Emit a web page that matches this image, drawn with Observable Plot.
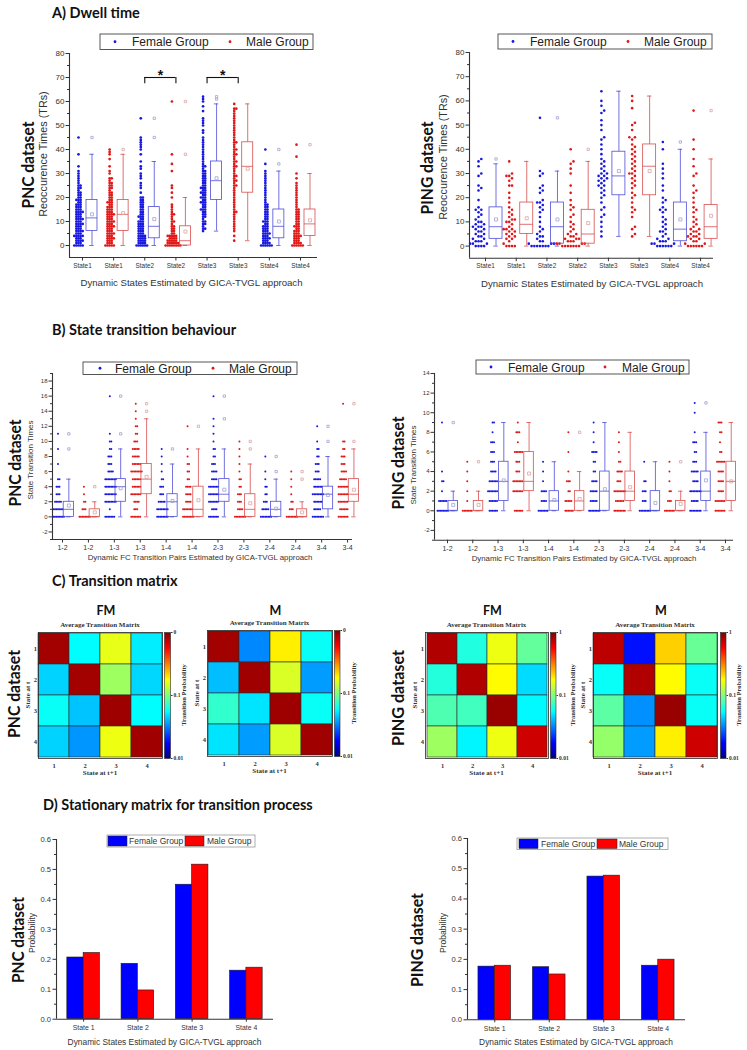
<!DOCTYPE html>
<html><head><meta charset="utf-8">
<script src="https://cdn.jsdelivr.net/npm/d3@7"></script>
<script src="https://cdn.jsdelivr.net/npm/@observablehq/plot@0.6"></script>
<style>
html,body{margin:0;padding:0;background:#fff;}
#fig{position:relative;width:747px;height:1050px;overflow:hidden;background:#fff;}
</style></head>
<body><div id="fig"></div>
<script>
// ================= DATA =================
// A) Dwell time (reoccurrence times, TRs) – category labels
const dwellLabels = ["State1","State1","State2","State2","State3","State3","State4","State4"];
const dwellTicks = [0,10,20,30,40,50,60,70,80];
const dwellMinor = [5,15,25,35,45,55,65,75];
// PNC raw values (Female / Male per state)
const pncDwellF1 = [0,0,0,0,0,1,1,1,2,2,2,2,3,3,3,4,4,4,4,4,5,5,5,6,6,6,6,7,7,7,8,8,8,9,9,9,9,10,10,10,11,11,11,11,12,12,12,13,13,13,14,14,14,14,15,15,15,16,16,16,17,17,17,18,18,19,19,19,20,20,21,21,22,22,23,24,24,25,25,26,27,28,29,30,31,33,38,45];
const pncDwellM1 = [0,0,0,0,0,1,1,1,2,2,2,3,3,3,3,4,4,4,5,5,5,5,6,6,6,7,7,7,8,8,8,8,9,9,9,10,10,10,10,11,11,11,12,12,12,13,13,13,13,14,14,14,15,15,15,16,16,16,17,17,18,18,18,19,19,20,20,21,21,22,22,23,24,24,25,25,26,26,27,28,28,30,31,33,36,38,39,40];
const pncDwellF2 = [0,0,0,0,0,0,1,1,1,1,2,2,2,2,3,3,3,3,4,4,4,4,5,5,5,6,6,6,7,7,7,8,8,8,9,9,9,10,10,10,11,11,12,12,12,13,13,14,14,15,15,16,16,17,17,18,18,19,19,20,20,22,24,25,26,28,29,30,32,33,35,38,40,41,42,43,44,45,53];
const pncDwellM2 = [0,0,0,0,0,0,0,0,1,1,1,1,1,1,2,2,2,2,2,3,3,3,3,4,4,4,4,4,5,5,6,6,7,7,8,8,9,10,10,11,12,13,13,14,15,16,17,20,22,24,25,31,34,38,60];
const pncDwellF3 = [6,7,7,8,9,9,10,10,11,12,12,13,13,14,14,15,15,15,16,16,17,17,18,18,18,19,19,20,20,20,21,21,22,22,22,23,23,24,24,24,25,25,26,26,27,27,28,28,29,29,30,30,31,31,32,33,33,34,35,36,37,38,39,40,41,42,43,44,45,47,48,50,51,52,53,56,58,60,61,62];
const pncDwellM3 = [2,4,6,7,8,9,10,11,12,13,14,14,15,16,17,18,19,20,21,22,23,24,25,25,26,27,27,28,29,29,30,31,32,33,33,34,35,35,36,37,38,38,39,40,40,41,42,43,43,44,45,46,47,48,49,50,51,52,53,54,55,56,57,57,59];
const pncDwellF4 = [0,0,0,0,0,0,1,1,1,1,2,2,2,3,3,3,3,4,4,4,5,5,5,5,6,6,6,7,7,7,8,8,8,9,9,10,10,10,11,11,12,12,13,13,14,14,15,15,16,16,17,17,18,19,20,21,22,23,24,25,26,27,28,29,30,31,34,40];
const pncDwellM4 = [0,0,0,0,0,0,1,1,1,1,2,2,2,3,3,3,4,4,4,4,5,5,5,6,6,6,7,7,8,8,8,9,9,10,10,11,11,12,12,13,13,14,14,15,15,16,17,18,19,20,21,22,23,24,25,26,28,30,37,42];
// PNC box statistics
const pncDwellQ1 = [6,6,3,0,19,22,3,4];
const pncDwellMed = [11.5,13,8,2,27,33,8,9];
const pncDwellQ3 = [19,19,16,8,35,43,15,15];
const pncDwellLo = [0,0,0,0,6,2,0,0];
const pncDwellHi = [38,38,35,20,59,59,31,30];
const pncDwellMean = [13,13.5,11,5.8,28,32,10,10.5];
const pncDwellMarks = [[45],[40],[53,45],[60,38],[62,61],[],[40,34],[42]];
const pncSigPairs = [[3,4],[5,6]];
const pncSigLevel = 70;
// PING raw values
const pingDwellF1 = [0,0,0,0,1,1,1,2,2,2,3,3,4,4,5,5,6,6,7,7,8,8,8,9,9,10,10,11,12,13,14,15,15,16,19,23,24,25,29,30,33,35,36];
const pingDwellM1 = [0,0,0,0,1,2,3,3,4,4,5,5,6,6,7,7,7,8,9,10,10,11,11,12,13,14,15,16,18,20,22,25,25,27,28,29,29,30,35];
const pingDwellF2 = [0,0,0,0,0,0,0,1,1,1,2,2,3,4,4,5,6,7,8,10,12,14,15,16,17,18,18,19,22,23,24,25,29,30,31,53];
const pingDwellM2 = [0,0,0,0,0,0,0,1,1,1,1,2,2,2,3,3,3,4,4,5,5,6,7,8,9,10,12,13,15,16,17,19,22,25,30,32,34,35,40];
const pingDwellF3 = [4,6,8,10,12,13,15,16,18,20,21,22,23,24,25,25,26,27,27,28,28,29,29,30,30,31,32,33,34,35,36,38,40,42,44,45,48,50,52,55,56,58,60,64];
const pingDwellM3 = [4,5,7,8,12,14,15,16,18,20,21,22,24,25,26,27,28,29,30,30,31,32,33,34,35,36,37,38,39,40,41,42,44,45,45,48,50,51,57,60,62];
const pingDwellF4 = [0,0,0,0,0,0,1,1,1,2,2,2,3,3,4,5,6,6,7,8,9,10,11,12,14,15,15,16,18,19,20,23,25,28,30,32,34,40,43];
const pingDwellM4 = [0,0,0,0,0,0,1,1,2,2,3,3,4,4,4,5,5,6,6,7,7,8,9,10,11,12,14,15,16,18,20,22,23,25,29,30,33,36,40,44,56];
const pingDwellQ1 = [3,5,1,1,21,21,2,3];
const pingDwellMed = [8,9,8,5,29,33,7,8];
const pingDwellQ3 = [16,18,18,15,39,42,18,17];
const pingDwellLo = [0,0,0,0,4,4,0,0];
const pingDwellHi = [34,35,31,35,64,62,40,36];
const pingDwellMean = [11,11.5,11,9.5,31,31,11,12.5];
const pingDwellMarks = [[36],[],[53],[40],[],[],[43],[56]];

// B) State transition times – counts of subjects per transition count (index = count 0,1,2,...)
const pairLabels = ["1-2","1-2","1-3","1-3","1-4","1-4","2-3","2-3","2-4","2-4","3-4","3-4"];
const pncTransTicks = [-2,0,2,4,6,8,10,12,14,16,18];
const pncTransMinor = [-3,-1,1,3,5,7,9,11,13,15,17,19];
const pingTransTicks = [-2,0,2,4,6,8,10,12,14];
const pingTransMinor = [-3,-1,1,3,5,7,9,11,13];
const pncTransF12 = [8,7,5,3,3,2,0,1,0,1,0,1];
const pncTransM12 = [8,3,2,1,1];
const pncTransF13 = [7,1,8,8,8,8,4,3,3,2,2,1,0,0,0,0,1];
const pncTransM13 = [7,3,4,7,6,6,8,6,5,5,3,2,2,1,1,1];
const pncTransF14 = [8,8,5,3,3,2,1,1,1,1];
const pncTransM14 = [8,7,4,4,4,2,2,2,1,1,0,0,1];
const pncTransF23 = [7,4,7,7,7,4,4,3,2,2,1,1,1,1,0,0,1];
const pncTransM23 = [8,4,3,3,2,2,1,1,1,1,1];
const pncTransF24 = [8,5,3,2,2,1,1,0,1];
const pncTransM24 = [8,3,2,1,1,1,1];
const pncTransF34 = [8,5,6,8,6,5,3,3,2,2,1,0,1];
const pncTransM34 = [7,6,7,7,7,5,4,3,3,2,2,0,0,0,0,1];
const pncTransQ1 = [0,0,2,3,0,0,2,0,0,0,1,2];
const pncTransMed = [1,0,4,5,2,1,3,1,1,0,3,3];
const pncTransQ3 = [2,1,5,7,3,4,5,3,2,1,4,5];
const pncTransLo = [0,0,0,0,0,0,0,0,0,0,0,0];
const pncTransHi = [5,2,9,13,7,9,9,7,5,2,8,9];
const pncTransMean = [1.5,0.6,3.8,5.3,2.1,2.2,3.6,1.8,1.1,0.6,2.9,3.6];
const pncTransMarks = [[9,11],[4],[11,16],[14,15],[9],[12],[13,16],[9,10],[6,8],[5,6],[10,12],[10,15]];
const pingTransF12 = [8,6,1,2,1,0,0,0,0,1];
const pingTransM12 = [7,1,1,1,1,1];
const pingTransF13 = [6,6,7,6,4,3,3,3,1,2];
const pingTransM13 = [6,0,7,7,3,3,6,1,3,1];
const pingTransF14 = [7,4,4,1,1,1];
const pingTransM14 = [6,5,2,3,1,0,1,0,1];
const pingTransF23 = [8,5,5,4,2,2,4,1,1,1];
const pingTransM23 = [8,6,8,3,4,2,1,1,1];
const pingTransF24 = [8,3,3,2,0,1];
const pingTransM24 = [7,3,2,1,1,1];
const pingTransF34 = [8,5,8,4,5,3,2,3,1,0,1,1];
const pingTransM34 = [7,7,4,4,4,6,2,1,2,3];
const pingTransQ1 = [0,0,1,2,0,0,0,1,0,0,1,1];
const pingTransMed = [0,0,3,3,1,1,2,2,0,0,2,3];
const pingTransQ3 = [1,1,5,6,2,2,4,4,2,1,4,5];
const pingTransLo = [0,0,0,0,0,0,0,0,0,0,0,0];
const pingTransHi = [2,2,9,9,5,4,9,8,5,2,8,9];
const pingTransMean = [0.6,0.6,3.1,3.8,1.1,1.2,2.2,2.4,0.8,0.7,3.1,3.0];
const pingTransMarks = [[9],[5],[],[],[],[8],[],[],[],[5],[11],[]];

// C) Average transition matrices (row = state at t, column = state at t+1)
const stateIdx = [1,2,3,4];
const pncMatFM = [[0.85,0.056,0.16,0.052],[0.046,0.85,0.115,0.047],[0.058,0.043,0.87,0.056],[0.046,0.035,0.165,0.86]];
const pncMatM  = [[0.85,0.033,0.19,0.058],[0.042,0.86,0.15,0.036],[0.07,0.05,0.87,0.058],[0.05,0.036,0.15,0.86]];
const pingMatFM = [[0.8,0.065,0.165,0.088],[0.066,0.8,0.18,0.048],[0.08,0.075,0.89,0.055],[0.115,0.054,0.165,0.7]];
const pingMatM  = [[0.76,0.019,0.22,0.09],[0.058,0.8,0.18,0.058],[0.085,0.034,0.89,0.058],[0.11,0.036,0.19,0.7]];
const cbarExp = [-2,-1,0];

// D) Stationary distribution
const stationaryStates = ["State 1","State 2","State 3","State 4"];
const probTicks = [0,0.1,0.2,0.3,0.4,0.5,0.6];
const probMinor = [0.05,0.15,0.25,0.35,0.45,0.55];
const pncStatF = [0.206,0.185,0.449,0.162];
const pncStatM = [0.221,0.096,0.516,0.172];
const pingStatF = [0.176,0.174,0.474,0.179];
const pingStatM = [0.179,0.150,0.477,0.199];

// ================= DRAWING =================
const SANS = "'Liberation Sans', Arial, sans-serif";
const SERIF = "'Liberation Serif', 'Times New Roman', serif";
const HEAD = "Lato, 'Open Sans', sans-serif";
const BLUE = "#1818e0", RED = "#e01818";
const BLUE_BOX = "#4e4ed8", RED_BOX = "#d84e4e";
const BLUE_LT = "#a2a2d4", RED_LT = "#d8a4a4";
const fig = document.getElementById("fig");

function addPlot(frame, m, opts) {
  const [L, T, R, B] = frame; const [mt, mr, mb, ml] = m;
  const svg = Plot.plot({
    width: R - L + ml + mr, height: B - T + mt + mb,
    marginTop: mt, marginRight: mr, marginBottom: mb, marginLeft: ml,
    style: `background:none;overflow:visible;font-family:${opts.font || SANS};font-size:${opts.fontSize || 8}px;font-weight:${opts.weight || 400};color:#333;`,
    ...opts.plot
  });
  svg.style.position = "absolute";
  svg.style.left = (L - ml) + "px";
  svg.style.top = (T - mt) + "px";
  fig.appendChild(svg);
}

// layout of points with equal/near values side by side (like a dodge transform)
function dodge(values, ppuY, minDist, step) {
  const sorted = values.map(v => ({v, py: v * ppuY})).sort((a, b) => a.v - b.v);
  const placed = [];
  for (const p of sorted) {
    for (let j = 0; j < 400; j++) {
      const off = j === 0 ? 0 : (j % 2 ? 1 : -1) * Math.ceil(j / 2) * step;
      let ok = true;
      for (const q of placed) {
        const dy = q.py - p.py;
        if (Math.abs(dy) < minDist && (q.off - off) ** 2 + dy * dy < minDist * minDist - 1e-6) { ok = false; break; }
      }
      if (ok) { p.off = off; placed.push(p); break; }
    }
  }
  return placed;
}

const expand = counts => counts.flatMap((c, v) => Array(c).fill(v));

function boxPanel(c) {
  const [L, T, R, B] = c.frame;
  const ppuX = (R - L) / (c.xDomain[1] - c.xDomain[0]);
  const ppuY = (B - T) / (c.yDomain[1] - c.yDomain[0]);
  const idx = d3.range(1, c.groups.length + 1);
  const sexOf = gi => gi % 2 === 0 ? "F" : "M";
  const pts = c.groups.flatMap((vals, gi) => dodge(vals, ppuY, c.minDist, c.step)
    .map(p => ({x: gi + 1 + (c.ptOff + p.off) / ppuX, y: p.v, sex: sexOf(gi)})));
  const st = c.stats;
  const boxes = st.q1.map((q1, gi) => ({i: gi + 1, sex: sexOf(gi), q1, med: st.med[gi], q3: st.q3[gi], lo: st.lo[gi], hi: st.hi[gi], mean: st.mean[gi]}));
  const extras = st.marks.flatMap((arr, gi) => arr.map(v => ({i: gi + 1, sex: sexOf(gi), v})));
  const mid = (c.boxL + c.boxR) / 2;
  const X = px => d => d.i + px / ppuX;
  const marks = [
    Plot.axisY({ticks: c.yTicks, tickSize: 3.5, tickPadding: 1.5, tickFormat: d => String(d), fontSize: c.yFont, label: null}),
    Plot.axisY({ticks: c.yMinor, tickSize: 2, tickFormat: () => "", label: null}),
    Plot.axisX({ticks: idx, tickSize: 3.5, tickPadding: 2, tickFormat: i => c.labels[i - 1], fontSize: c.xFont, label: null}),
    Plot.ruleX([c.xDomain[0]], {stroke: "#333", strokeWidth: 1.1}),
    Plot.ruleY([c.yDomain[0]], {stroke: "#333", strokeWidth: 1.1})
  ];
  for (const [s, col, bcol, lcol] of [["F", BLUE, BLUE_BOX, BLUE_LT], ["M", RED, RED_BOX, RED_LT]]) {
    const b = boxes.filter(d => d.sex === s), e = extras.filter(d => d.sex === s), p = pts.filter(d => d.sex === s);
    marks.push(
      Plot.dot(p, {x: "x", y: "y", r: c.r, fill: col}),
      Plot.rect(b, {x1: X(c.boxL), x2: X(c.boxR), y1: "q1", y2: "q3", fill: "none", stroke: bcol, strokeWidth: 0.8}),
      Plot.ruleY(b, {x1: X(c.boxL), x2: X(c.boxR), y: "med", stroke: bcol, strokeWidth: 0.8}),
      Plot.ruleX(b, {x: X(mid), y1: "q3", y2: "hi", stroke: bcol, strokeWidth: 0.8}),
      Plot.ruleX(b, {x: X(mid), y1: "lo", y2: "q1", stroke: bcol, strokeWidth: 0.8}),
      Plot.ruleY(b, {x1: X(mid - 2.2), x2: X(mid + 2.2), y: "hi", stroke: bcol, strokeWidth: 0.8}),
      Plot.ruleY(b, {x1: X(mid - 2.2), x2: X(mid + 2.2), y: "lo", stroke: bcol, strokeWidth: 0.8}),
      Plot.dot(b, {x: X(mid), y: "mean", symbol: "square", r: 1.7, stroke: lcol, fill: "none", strokeWidth: 0.8}),
      Plot.dot(e, {x: X(mid), y: "v", symbol: "square", r: 1.3, stroke: lcol, fill: "none", strokeWidth: 0.8})
    );
  }
  if (c.sig) {
    const rows = c.sig.pairs.map(([a, b]) => ({a, b, m: (a + b) / 2, y: c.sig.level, y0: c.sig.level - 2.6}));
    marks.push(
      Plot.ruleY(rows, {x1: "a", x2: "b", y: "y", stroke: "#111", strokeWidth: 1.1}),
      Plot.ruleX(rows, {x: "a", y1: "y0", y2: "y", stroke: "#111", strokeWidth: 1.1}),
      Plot.ruleX(rows, {x: "b", y1: "y0", y2: "y", stroke: "#111", strokeWidth: 1.1}),
      Plot.text(rows, {x: "m", y: "y", text: () => "*", dy: -2, fontSize: 14, fontWeight: "bold", fill: "#111"})
    );
  }
  addPlot(c.frame, [4, 6, 22, 30], {fontSize: 8, plot: {x: {domain: c.xDomain}, y: {domain: c.yDomain}, marks}});
}

// ---- A) Dwell time ----
boxPanel({
  frame: [69, 53, 317, 257], xDomain: [0.583, 8.546], yDomain: [-5, 80],
  groups: [pncDwellF1, pncDwellM1, pncDwellF2, pncDwellM2, pncDwellF3, pncDwellM3, pncDwellF4, pncDwellM4],
  stats: {q1: pncDwellQ1, med: pncDwellMed, q3: pncDwellQ3, lo: pncDwellLo, hi: pncDwellHi, mean: pncDwellMean, marks: pncDwellMarks},
  labels: dwellLabels, yTicks: dwellTicks, yMinor: dwellMinor, yFont: 8, xFont: 6.4,
  ptOff: -4, step: 2.1, minDist: 2.1, r: 1.35, boxL: 4, boxR: 15,
  sig: {pairs: pncSigPairs, level: pncSigLevel}
});
boxPanel({
  frame: [469, 52.3, 713, 258], xDomain: [0.479, 8.42], yDomain: [-5, 80],
  groups: [pingDwellF1, pingDwellM1, pingDwellF2, pingDwellM2, pingDwellF3, pingDwellM3, pingDwellF4, pingDwellM4],
  stats: {q1: pingDwellQ1, med: pingDwellMed, q3: pingDwellQ3, lo: pingDwellLo, hi: pingDwellHi, mean: pingDwellMean, marks: pingDwellMarks},
  labels: dwellLabels, yTicks: dwellTicks, yMinor: dwellMinor, yFont: 8, xFont: 6.4,
  ptOff: -7, step: 2.8, minDist: 2.8, r: 1.3, boxL: 4, boxR: 17
});

// ---- B) State transitions ----
boxPanel({
  frame: [52, 372.6, 352, 538.6], xDomain: [0.614, 12.19], yDomain: [-3, 19],
  groups: [pncTransF12, pncTransM12, pncTransF13, pncTransM13, pncTransF14, pncTransM14, pncTransF23, pncTransM23, pncTransF24, pncTransM24, pncTransF34, pncTransM34].map(expand),
  stats: {q1: pncTransQ1, med: pncTransMed, q3: pncTransQ3, lo: pncTransLo, hi: pncTransHi, mean: pncTransMean, marks: pncTransMarks},
  labels: pairLabels, yTicks: pncTransTicks, yMinor: pncTransMinor, yFont: 6, xFont: 7,
  ptOff: -4.5, step: 1.5, minDist: 1.5, r: 1.0, boxL: 1.2, boxR: 11.5
});
boxPanel({
  frame: [434, 372.7, 733, 539.4], xDomain: [0.4856, 12.3166], yDomain: [-3, 14],
  groups: [pingTransF12, pingTransM12, pingTransF13, pingTransM13, pingTransF14, pingTransM14, pingTransF23, pingTransM23, pingTransF24, pingTransM24, pingTransF34, pingTransM34].map(expand),
  stats: {q1: pingTransQ1, med: pingTransMed, q3: pingTransQ3, lo: pingTransLo, hi: pingTransHi, mean: pingTransMean, marks: pingTransMarks},
  labels: pairLabels, yTicks: pingTransTicks, yMinor: pingTransMinor, yFont: 6, xFont: 7,
  ptOff: -5.5, step: 1.5, minDist: 1.5, r: 1.0, boxL: 1, boxR: 10.5
});

// ---- C) Transition matrices ----
function jet(t) {
  const c = v => Math.max(0, Math.min(1, v));
  const r = c(1.5 - Math.abs(4 * t - 3)), g = c(1.5 - Math.abs(4 * t - 2)), b = c(1.5 - Math.abs(4 * t - 1));
  return `rgb(${Math.round(r * 255)},${Math.round(g * 255)},${Math.round(b * 255)})`;
}
const colorOpts = {type: "log", domain: [0.01, 1], interpolate: jet};
function heatPanel(frame, matrix) {
  const cells = matrix.flatMap((row, ri) => row.map((p, ci) => ({from: stateIdx[ri], to: stateIdx[ci], p})));
  addPlot(frame, [2, 2, 14, 12], {font: SERIF, fontSize: 6.5, weight: 700, plot: {
    x: {domain: stateIdx, padding: 0, label: null}, y: {domain: stateIdx, padding: 0, label: null},
    color: colorOpts,
    marks: [
      Plot.cell(cells, {x: "to", y: "from", fill: "p", stroke: "#2b2b2b", strokeWidth: 0.6, inset: 0}),
      Plot.frame({stroke: "#2b2b2b", strokeWidth: 0.8}),
      Plot.axisX({tickSize: 0, tickPadding: 5, label: null}),
      Plot.axisY({tickSize: 0, tickPadding: 1.5, label: null})
    ]}});
}
function colorbar(frame, topLabel) {
  addPlot(frame, [2, 14, 2, 2], {font: SERIF, fontSize: 5.5, weight: 700, plot: {
    x: {domain: [0, 1], axis: null}, y: {domain: [-2, 0]},
    color: colorOpts,
    marks: [
      Plot.raster({fill: (x, y) => 10 ** y, x1: 0, x2: 1, y1: -2, y2: 0, pixelSize: 1}),
      Plot.frame({stroke: "#2b2b2b", strokeWidth: 0.6}),
      Plot.axisY({anchor: "right", ticks: cbarExp, tickSize: 1.5, tickPadding: 1.5, tickFormat: e => e === 0 ? topLabel : String(10 ** e), label: null})
    ]}});
}
heatPanel([38, 632, 162, 758], pncMatFM);   colorbar([164, 632, 170, 758], "0");
heatPanel([207, 630, 332, 756], pncMatM);    colorbar([333.5, 630, 339, 756], "0");
heatPanel([425, 632, 548, 758], pingMatFM);  colorbar([550, 632, 555.5, 758], "1");
heatPanel([593, 632, 717, 758], pingMatM);   colorbar([719.5, 632, 725, 758], "1");

// ---- D) Stationary distribution ----
function barPanel(frame, F, M) {
  const [L, T, R, B] = frame;
  const ppuX = (R - L) / 4;
  const bw = 16.3 / ppuX;
  const rows = stationaryStates.map((s, k) => ({i: k + 1, f: F[k], m: M[k]}));
  addPlot(frame, [5, 6, 24, 30], {fontSize: 7.6, plot: {
    x: {domain: [0.5, 4.5]}, y: {domain: [0, 0.6]},
    marks: [
      Plot.rect(rows, {x1: d => d.i - bw, x2: "i", y1: 0, y2: "f", fill: "#0000ff", stroke: "#1a1a1a", strokeWidth: 0.6}),
      Plot.rect(rows, {x1: "i", x2: d => d.i + bw, y1: 0, y2: "m", fill: "#ff0000", stroke: "#1a1a1a", strokeWidth: 0.6}),
      Plot.ruleX([0.5], {stroke: "#333", strokeWidth: 1.1}),
      Plot.ruleY([0], {stroke: "#333", strokeWidth: 1.1}),
      Plot.axisY({ticks: probTicks, tickFormat: d3.format(".1f"), tickSize: 3.5, tickPadding: 2, label: null}),
      Plot.axisY({ticks: probMinor, tickSize: 2, tickFormat: () => "", label: null}),
      Plot.axisX({ticks: [1, 2, 3, 4], tickFormat: i => stationaryStates[i - 1], tickSize: 3, tickPadding: 3, fontSize: 6.9, label: null})
    ]}});
}
barPanel([56, 839.3, 273, 1019], pncStatF, pncStatM);
barPanel([467, 837.7, 685, 1019], pingStatF, pingStatM);

// ================= TEXT / LEGEND OVERLAY =================
const ov = d3.select(fig).append("svg").attr("width", 747).attr("height", 1050)
  .attr("style", "position:absolute;left:0;top:0;overflow:visible;pointer-events:none");
function txt(s, x, y, o = {}) {
  const t = ov.append("text").attr("x", x).attr("y", y).text(s)
    .attr("font-family", o.family || SANS).attr("font-size", o.size || 10).attr("font-weight", o.weight || 400)
    .attr("fill", o.fill || "#2a2a2a").attr("text-anchor", o.anchor || "start");
  if (o.mid) t.attr("dominant-baseline", "central");
  if (o.rot) t.attr("transform", `rotate(-90 ${x} ${y})`);
  if (o.len) t.attr("textLength", o.len).attr("lengthAdjust", "spacingAndGlyphs");
  return t;
}
const H = {family: HEAD, size: 14.5, weight: 700, fill: "#111"};
txt("A) Dwell time", 52, 17.5, H);
txt("B) State transition behaviour", 52, 335, H);
txt("C) Transition matrix", 52, 586, H);
txt("D) Stationary matrix for transition process", 43, 810, H);

const DS = (s, x, y, len) => txt(s, x, y, {family: HEAD, size: 17, weight: 700, fill: "#111", anchor: "middle", mid: true, rot: true, len});
DS("PNC dataset", 27, 165, 87); DS("PING dataset", 426, 168, 93);
DS("PNC dataset", 14, 463, 87); DS("PING dataset", 397, 463, 93);
DS("PNC dataset", 13, 694, 88); DS("PING dataset", 397, 698, 96);
DS("PNC dataset", 17, 940, 86); DS("PING dataset", 416, 940, 94);

const AX = (s, x, y, size, rot) => txt(s, x, y, {size, anchor: "middle", mid: true, rot, fill: "#333"});
AX("Reoccurence Times (TRs)", 43, 154, 10.8, true);
AX("Reoccurence Times (TRs)", 443, 157, 10.8, true);
AX("Dynamic States Estimated by GICA-TVGL approach", 191.5, 282, 9.6);
AX("Dynamic States Estimated by GICA-TVGL approach", 592, 283, 9.6);
AX("State Transition Times", 30, 460, 8, true);
AX("State Transition Times", 413, 465, 8, true);
AX("Dynamic FC Transition Pairs Estimated by GICA-TVGL approach", 200, 557, 7.8);
AX("Dynamic FC Transition Pairs Estimated by GICA-TVGL approach", 584, 558, 7.8);
AX("Probability", 32, 933, 8.6, true);
AX("Probability", 443, 933, 8.6, true);
AX("Dynamic States Estimated by GICA-TVGL approach", 164.5, 1042, 8.4);
AX("Dynamic States Estimated by GICA-TVGL approach", 576, 1042, 8.4);

// heatmap annotations
const heatText = [
  {L: 38, R: 162, T: 632, B: 758, title: "FM", tp: 183},
  {L: 207, R: 332, T: 630, B: 756, title: "M", tp: 353},
  {L: 425, R: 548, T: 632, B: 758, title: "FM", tp: 572},
  {L: 593, R: 717, T: 632, B: 758, title: "M", tp: 738}
];
const SB = {family: SERIF, weight: 700, size: 7, anchor: "middle", mid: true, fill: "#333"};
for (const h of heatText) {
  const cx = (h.L + h.R) / 2, cy = (h.T + h.B) / 2;
  txt(h.title, cx + 6, 610, {family: HEAD, size: 12.5, weight: 700, anchor: "middle", mid: true, fill: "#111"});
  txt("Average Transition Matrix", cx, h.T - 7, SB);
  txt("State at t", h.L - 10, cy, {...SB, rot: true});
  txt("State at t+1", cx, h.B + 15, SB);
  txt("Transition Probability", h.tp, cy, {...SB, size: 6.5, rot: true});
}

// legends
function dotLegend(x, y, w, h, items) {
  ov.append("rect").attr("x", x).attr("y", y).attr("width", w).attr("height", h).attr("fill", "#fff").attr("stroke", "#444").attr("stroke-width", 0.9);
  for (const it of items) {
    ov.append("circle").attr("cx", it.dx).attr("cy", y + h / 2).attr("r", 1.4).attr("fill", it.color);
    txt(it.label, it.tx, y + h / 2 + 0.5, {size: 12, mid: true, fill: "#222"});
  }
}
dotLegend(100, 34, 213, 15.5, [{dx: 115, tx: 132, color: BLUE, label: "Female Group"}, {dx: 230, tx: 246, color: RED, label: "Male Group"}]);
dotLegend(498, 34, 214, 15, [{dx: 513, tx: 530, color: BLUE, label: "Female Group"}, {dx: 628, tx: 644, color: RED, label: "Male Group"}]);
dotLegend(83, 362, 214, 12.5, [{dx: 100, tx: 115, color: BLUE, label: "Female Group"}, {dx: 213, tx: 229, color: RED, label: "Male Group"}]);
dotLegend(476, 360, 213, 14, [{dx: 491, tx: 508, color: BLUE, label: "Female Group"}, {dx: 605, tx: 622, color: RED, label: "Male Group"}]);

function barLegend(x, y, w, h, items) {
  ov.append("rect").attr("x", x).attr("y", y).attr("width", w).attr("height", h).attr("fill", "#fff").attr("stroke", "#999").attr("stroke-width", 0.8);
  for (const it of items) {
    ov.append("rect").attr("x", it.sx).attr("y", y + 1).attr("width", it.sw).attr("height", h - 2).attr("fill", it.color).attr("stroke", "#222").attr("stroke-width", 0.5);
    txt(it.label, it.tx, y + h / 2 + 0.3, {size: 8.5, mid: true, fill: "#333"});
  }
}
barLegend(107, 835, 148, 12, [{sx: 108, sw: 19, tx: 129, color: "#0000ff", label: "Female Group"}, {sx: 185, sw: 19, tx: 207, color: "#ff0000", label: "Male Group"}]);
barLegend(517, 838, 151, 11.5, [{sx: 519, sw: 19, tx: 541, color: "#0000ff", label: "Female Group"}, {sx: 597, sw: 20, tx: 619, color: "#ff0000", label: "Male Group"}]);
</script>
</body></html>
